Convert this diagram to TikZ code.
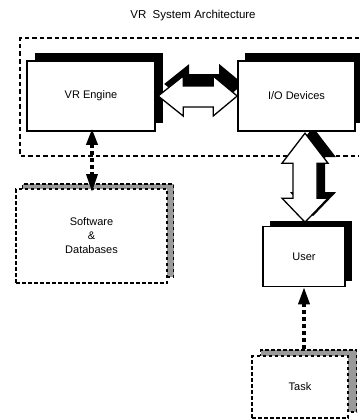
\documentclass[tikz,border=0pt]{standalone}
\usepackage{fontspec}
\setmainfont{Liberation Sans}
\usetikzlibrary{arrows.meta,calc}
\begin{document}
\begin{tikzpicture}[x=1pt,y=-1pt,
  frontbox/.style={draw=black,line width=1.5pt,fill=white,inner sep=0pt,font=\fontsize{11}{14}\selectfont},
  shadowbox/.style={fill=black,inner sep=0pt},
  dashfront/.style={draw=black,line width=1.9pt,dash pattern=on 3.5pt off 2.5pt,fill=white,inner sep=0pt,align=center,font=\fontsize{11}{14}\selectfont},
  dashshadow/.style={draw=black,line width=1.9pt,dash pattern=on 3.5pt off 2.5pt,fill=black!40,inner sep=0pt},
  dotline/.style={line width=3.5pt,dash pattern=on 4pt off 3pt},
  blockwhite/.style={draw=black,line width=1.3pt,fill=white,line join=miter},
  blockshadow/.style={fill=black},
  frame/.style={draw=black,line width=1.2pt,dash pattern=on 4.5pt off 3pt}
]
\useasboundingbox (0,0) rectangle (359,420);

% title
\node[font=\fontsize{11.5}{13}\selectfont] (title) at (193,16) {VR\ \ System Architecture};

% outer dashed frame
\draw[frame] (359,38) -- (20,38) -- (20,156) -- (359,156);

% box shadows
\node[shadowbox,minimum width=128pt,minimum height=70pt] (vrsh) at (99,88) {};
\node[shadowbox,minimum width=117pt,minimum height=70pt] (iosh) at (303.5,88) {};
\node[shadowbox,minimum width=82pt,minimum height=60pt] (usersh) at (311,251) {};
\node[dashshadow,minimum width=151pt,minimum height=93pt] (swsh) at (98,230.5) {};
\node[dashshadow,minimum width=96pt,minimum height=62pt] (tasksh) at (308.5,381) {};

% block arrow reference points
\coordinate (hL) at ($(vrsh.east)+(-5,8)$);
\coordinate (hLs) at ($(hL)+(6,-12)$);
\coordinate (vT) at ($(iosh.south)+(1.5,10)$);
\coordinate (vTs) at ($(vT)+(8,-6)$);

% block arrow shadows
\fill[blockshadow] (hLs) -- ++(25,-20) -- ++(0,10) -- ++(30,0) -- ++(0,-10)
  -- ++(24,20) -- ++(-24,20) -- ++(0,-9) -- ++(-30,0) -- ++(0,9) -- cycle;
\fill[blockshadow] (vTs) -- ++(23,30) -- ++(-11,0) -- ++(0,35) -- ++(11,0)
  -- ++(-23,24) -- ++(-23,-24) -- ++(11,0) -- ++(0,-35) -- ++(-11,0) -- cycle;

% front boxes
\node[frontbox,minimum width=128pt,minimum height=70pt] (vr) at (91,96) {VR Engine};
\node[frontbox,minimum width=117pt,minimum height=70pt] (io) at (296.5,96) {I/O Devices};
\node[frontbox,minimum width=82pt,minimum height=60pt] (user) at (304,256.5) {User};
\node[dashfront,minimum width=151pt,minimum height=94pt] (sw) at (91.5,236) {Software\\\&\\Databases};
\node[dashfront,minimum width=96pt,minimum height=62pt] (task) at (300,387) {Task};

% white block double arrows
\draw[blockwhite] (hL) -- ++(25,-20) -- ++(0,10) -- ++(30,0) -- ++(0,-10)
  -- ++(24,20) -- ++(-24,20) -- ++(0,-9) -- ++(-30,0) -- ++(0,9) -- cycle;
\draw[blockwhite] (vT) -- ++(23,30) -- ++(-11,0) -- ++(0,35) -- ++(11,0)
  -- ++(-23,24) -- ++(-23,-24) -- ++(11,0) -- ++(0,-35) -- ++(-11,0) -- cycle;

% dotted arrows
\draw[dotline,{Triangle[length=16pt,width=11pt]}-{Triangle[length=18pt,width=11pt]},shorten <=-3pt,shorten >=-4pt]
  ([xshift=1pt]vr.south) -- ([xshift=0.5pt]sw.north);
\draw[dotline,-{Triangle[length=17pt,width=11pt]}]
  ([xshift=-4.5pt]tasksh.north) -- (user.south);
\end{tikzpicture}
\end{document}
